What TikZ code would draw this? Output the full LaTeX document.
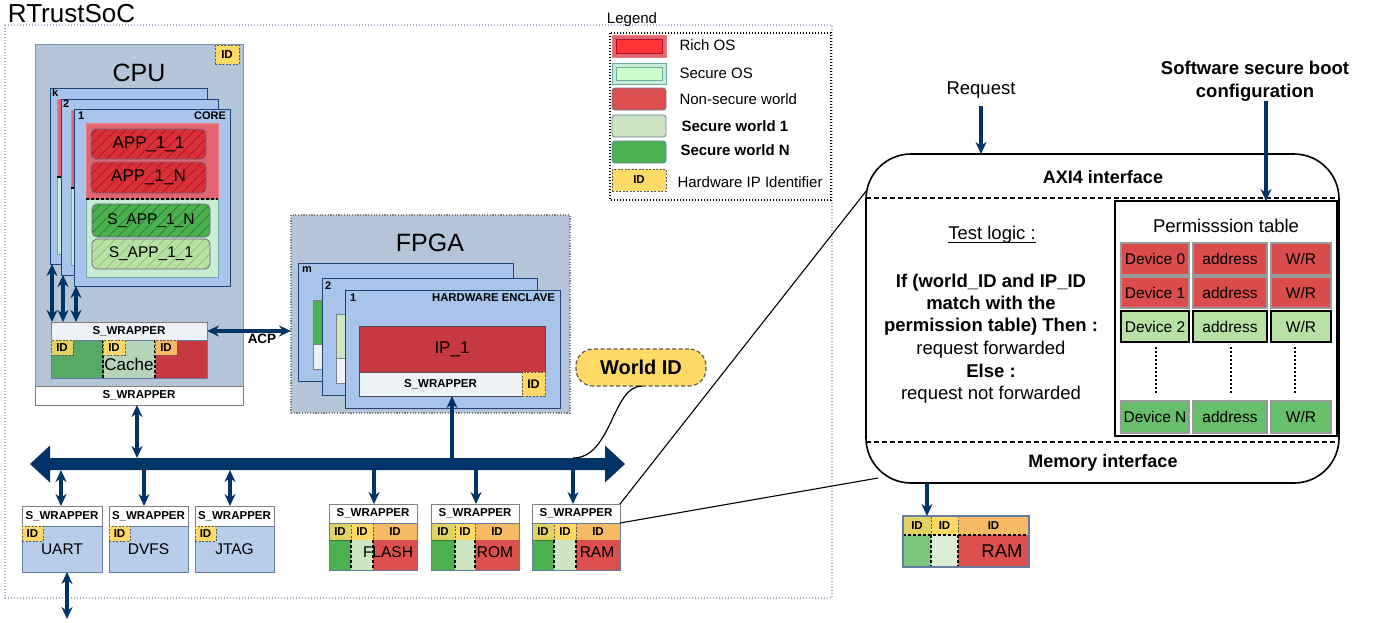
\documentclass[tikz,border=0pt]{standalone}
\usepackage{fontspec}
\setmainfont{Liberation Sans}
\usetikzlibrary{arrows.meta,patterns.meta,calc}
\newcommand\fsz[1]{\fontsize{#1}{#1}\selectfont}
\newcommand\bx[7]{\node[anchor=north west,inner sep=0pt,outer sep=0pt,minimum width={(#5-#3)*1pt},minimum height={(#6-#4)*1pt},#2] (#1) at (#3,#4) {#7};}
\definecolor{dblue}{RGB}{0,51,102}
\definecolor{cpufill}{RGB}{180,197,216}
\definecolor{cpudraw}{RGB}{120,150,185}
\definecolor{layerfill}{RGB}{169,196,235}
\definecolor{layerdraw}{RGB}{28,68,118}
\definecolor{richfill}{RGB}{226,102,114}
\definecolor{richdraw}{RGB}{240,125,125}
\definecolor{secfill}{RGB}{200,236,214}
\definecolor{secdraw}{RGB}{110,170,160}
\definecolor{appred}{RGB}{216,48,54}
\definecolor{apphatch}{RGB}{170,22,32}
\definecolor{appdraw}{RGB}{120,95,125}
\definecolor{sappn}{RGB}{76,175,80}
\definecolor{sappnh}{RGB}{35,125,45}
\definecolor{sapp1}{RGB}{185,224,165}
\definecolor{sapp1h}{RGB}{140,195,120}
\definecolor{idyel}{RGB}{255,217,102}
\definecolor{idolive}{RGB}{226,210,100}
\definecolor{idorange}{RGB}{246,185,100}
\definecolor{nsred}{RGB}{219,79,79}
\definecolor{ipred}{RGB}{200,56,64}
\definecolor{sw1}{RGB}{205,229,192}
\definecolor{swn}{RGB}{76,178,80}
\definecolor{perfill}{RGB}{184,205,234}
\definecolor{perdraw}{RGB}{100,125,160}
\definecolor{socdot}{RGB}{165,180,205}
\definecolor{wrapfill}{RGB}{238,242,247}
\definecolor{cachegreen}{RGB}{87,170,102}
\definecolor{cachemid}{RGB}{181,212,186}
\definecolor{tred}{RGB}{219,76,76}
\definecolor{tlgreen}{RGB}{185,224,165}
\definecolor{tgreen}{RGB}{103,190,107}
\definecolor{iddraw}{RGB}{90,90,90}
\definecolor{rgreen}{RGB}{125,198,127}
\definecolor{rlight}{RGB}{220,239,212}
\newcommand\memb[7]{%
 \bx{#1w}{wrap}{#2}{504}{#5}{523}{S\_WRAPPER}
 \bx{#1i1}{idc,fill=idolive}{#2}{523}{#3}{540}{ID}
 \bx{#1i2}{idc,fill=idyel}{#3}{523}{#4}{540}{ID}
 \bx{#1i3}{idc,fill=idorange}{#4}{523}{#5}{540}{ID}
 \bx{#1g}{fill=swn,draw=swn!70!black,line width=0.6pt}{#2}{540}{#3}{570}{}
 \bx{#1l}{fill=sw1}{#3}{540}{#4}{570}{}
 \bx{#1r}{fill=nsred}{#4}{540}{#5}{570}{}
 \node[font=\fsz{15.5}] at (#7,552) {#6};
 \draw[mdash] (#1l.north west) -- (#1l.south west);
 \draw[mdash] (#1l.north east) -- (#1l.south east);
 \draw[perdraw,line width=0.8pt] (#1i1.north west) rectangle (#1r.south east);
}
\newcommand\perb[5]{%
 \bx{#1w}{wrap}{#2}{506}{#3}{526}{S\_WRAPPER}
 \bx{#1b}{fill=perfill,draw=perdraw,line width=0.8pt,font=\fsz{15.5}}{#2}{526}{#3}{572}{#4}
 \bx{#1i}{idb}{#2}{526}{#5}{541}{ID}
}
\begin{document}
\begin{tikzpicture}[x=1pt,y=-1pt,
  lab/.style={inner sep=0pt,outer sep=0pt},
  idb/.style={fill=idyel,draw=iddraw,dash pattern=on 2pt off 1.5pt,line width=0.8pt,font=\fsz{11.5}\bfseries},
  idc/.style={draw=iddraw,dash pattern=on 2pt off 1.5pt,line width=0.7pt,font=\fsz{11.5}\bfseries},
  wrap/.style={fill=white,draw=gray,line width=0.9pt,font=\fsz{11.5}\bfseries},
  layer/.style={fill=layerfill,draw=layerdraw,line width=1pt},
  app/.style={rounded corners=5pt,draw=appdraw,line width=0.7pt,preaction={fill=#1},pattern={Lines[angle=45,distance=7pt,line width=0.7pt]}},
  arr/.style={draw=dblue,line width=3.2pt,-{Stealth[length=12pt,width=11pt]}},
  darr/.style={draw=dblue,line width=3.2pt,{Stealth[length=12pt,width=11pt]}-{Stealth[length=12pt,width=11pt]}},
  mdash/.style={black,line width=1.4pt,dash pattern=on 3pt off 2pt},
  cell/.style={draw=gray!80,line width=1.1pt,font=\fsz{15.5}},
  lgt/.style={anchor=west,font=\fsz{15}},
]
\useasboundingbox (0,0) rectangle (1383,622);
\fill[white] (0,0) rectangle (1383,622);

% SoC frame
\draw[socdot,line width=1.4pt,dash pattern=on 1.3pt off 1.7pt] (5,25) rectangle (832,598);
\node[lab,anchor=base west,font=\fsz{26}] (soc) at (8,22) {RTrustSoC};

% Legend
\node[lab,font=\fsz{15}] (legt) at (632,20) {Legend};
\draw[black,line width=1.4pt,dash pattern=on 1.3pt off 1.7pt] (610,33) rectangle (831,200);
\bx{lg1}{fill=richfill,draw=richdraw,line width=0.8pt}{612}{35}{666}{57}{}
\draw[fill=red!80!white,draw=apphatch,line width=0.8pt] ([shift={(4,4)}]lg1.north west) rectangle ([shift={(-4,-4)}]lg1.south east);
\bx{lg2}{fill=secfill,draw=secdraw,line width=0.8pt}{612}{63}{666}{84}{}
\draw[fill=green!20!white,draw=secdraw,line width=0.8pt] ([shift={(4,4)}]lg2.north west) rectangle ([shift={(-4,-4)}]lg2.south east);
\bx{lg3}{fill=nsred,draw=perdraw,rounded corners=3pt,line width=0.8pt}{612}{88}{666}{110}{}
\bx{lg4}{fill=sw1,draw=perdraw,rounded corners=3pt,line width=0.8pt}{612}{115}{666}{137}{}
\bx{lg5}{fill=swn,draw=perdraw,rounded corners=3pt,line width=0.8pt}{612}{141}{666}{163}{}
\bx{lg6}{idb}{612}{169}{666}{191}{ID}
\node[lgt] at (676,45) {Rich OS};
\node[lgt] at (676,73) {Secure OS};
\node[lgt] at (676,99) {Non-secure world};
\node[lgt,font=\fsz{15}\bfseries] at (678,126) {Secure world 1};
\node[lgt,font=\fsz{15}\bfseries] at (677,150) {Secure world N};
\node[lgt] at (674,182) {Hardware IP Identifier};

% CPU
\bx{cpu}{fill=cpufill,draw=cpudraw,line width=1pt}{35}{44}{243}{386}{}
\node[lab,font=\fsz{25}] at (139,73) {CPU};
\bx{cpuid}{idb}{215}{45}{239}{64}{ID}

\bx{corek}{layer}{50}{88}{207}{264}{}
\draw[fill=richfill,draw=richdraw] (57,99) rectangle (80,177);
\draw[fill=secfill,draw=secdraw] (57,177) rectangle (80,254);
\draw[black,line width=1.5pt] (57,177) -- (61,177);
\node[lab,anchor=north west,font=\fsz{11}\bfseries] at ([shift={(2,1)}]corek.north west) {k};
\bx{core2}{layer}{61}{99}{218}{275}{}
\draw[fill=richfill,draw=richdraw] (71,110) rectangle (95,188);
\draw[fill=secfill,draw=secdraw] (71,188) rectangle (95,265);
\draw[black,line width=1.5pt] (71,188) -- (74,188);
\node[lab,anchor=north west,font=\fsz{11}\bfseries] at ([shift={(2,1)}]core2.north west) {2};
\bx{core1}{layer}{74}{109}{230}{286}{}
\node[lab,anchor=north west,font=\fsz{11}\bfseries] at ([shift={(4,3)}]core1.north west) {1};
\node[lab,anchor=north east,font=\fsz{11}\bfseries] at ([shift={(-4,3)}]core1.north east) {CORE};
\bx{rich1}{fill=richfill,draw=richdraw,line width=0.8pt}{86}{123}{218}{199}{}
\bx{sec1}{fill=secfill,draw=secdraw,line width=0.8pt}{86}{199}{218}{277}{}
\draw[mdash,line width=1.8pt] (rich1.south west) -- (rich1.south east);
\bx{app11}{app=appred,pattern color=apphatch,font=\fsz{17}}{91}{129}{206}{159}{APP\_1\_1}
\bx{app1n}{app=appred,pattern color=apphatch,font=\fsz{17}}{91}{162}{206}{193}{APP\_1\_N}
\bx{sapp1n}{app=sappn,pattern color=sappnh,font=\fsz{15.5}}{92}{204}{210}{237}{S\_APP\_1\_N}
\bx{sapp11}{app=sapp1,pattern color=sapp1h,font=\fsz{15.5}}{92}{239}{210}{269}{S\_APP\_1\_1}

% cache
\bx{cachew}{wrap,fill=wrapfill}{51}{322}{207}{340}{S\_WRAPPER}
\bx{cg}{fill=cachegreen,draw=perdraw,line width=0.6pt}{51}{340}{103}{378}{}
\bx{cm}{fill=cachemid,draw=perdraw,line width=0.6pt}{103}{340}{155}{378}{}
\bx{cr}{fill=ipred,draw=perdraw,line width=0.6pt}{155}{340}{207}{378}{}
\draw[mdash] (cm.north west) -- (cm.south west);
\draw[mdash] (cm.north east) -- (cm.south east);
\bx{cid1}{idb,fill=idolive}{51}{340}{73}{355}{ID}
\bx{cid2}{idb}{103}{340}{125}{355}{ID}
\bx{cid3}{idb,fill=idorange}{155}{340}{177}{355}{ID}
\node[lab,font=\fsz{17}] (cachet) at (129,364) {Cache};

\draw[darr,line width=3.5pt] ([xshift=2pt]corek.south west) -- ([xshift=2pt]corek.south west |- cachew.north);
\draw[darr,line width=3.5pt] ([xshift=2pt]core2.south west) -- ([xshift=2pt]core2.south west |- cachew.north);
\draw[darr,line width=3.5pt] ([xshift=2pt]core1.south west) -- ([xshift=2pt]core1.south west |- cachew.north);

\bx{cpuw}{wrap}{35}{386}{243}{405}{S\_WRAPPER}

% FPGA
\bx{fpga}{fill=cpufill,draw=gray,line width=1.1pt,dash pattern=on 1.2pt off 1.5pt}{291}{215}{570}{413}{}
\node[lab,font=\fsz{25}] at (430,243) {FPGA};
\bx{encm}{layer}{298}{263}{513}{381}{}
\bx{encmg}{fill=swn,draw=gray}{313}{300}{360}{344}{}
\bx{encmw}{fill=wrapfill,draw=gray}{313}{344}{360}{369}{}
\node[lab,anchor=north west,font=\fsz{11}\bfseries] at ([shift={(4,4)}]encm.north west) {m};
\bx{enc2}{layer}{322}{278}{537}{395}{}
\bx{enc2g}{fill=sw1,draw=gray}{336}{314}{380}{358}{}
\bx{enc2w}{fill=wrapfill,draw=gray}{336}{358}{380}{383}{}
\node[lab,anchor=north west,font=\fsz{11}\bfseries] at ([shift={(3,4)}]enc2.north west) {2};
\bx{enc1}{layer}{345}{290}{560}{408}{}
\node[lab,anchor=north west,font=\fsz{11}\bfseries] at ([shift={(5,4)}]enc1.north west) {1};
\node[lab,anchor=north east,font=\fsz{11.3}\bfseries] at ([shift={(-5,4)}]enc1.north east) {HARDWARE ENCLAVE};
\bx{ip1}{fill=ipred,draw=gray!60!black,line width=0.8pt,font=\fsz{17}}{359}{326}{545}{372}{IP\_1}
\bx{fwrap}{wrap,fill=wrapfill,draw=gray!60!black,line width=0.8pt}{359}{372}{522}{396}{S\_WRAPPER}
\bx{fid}{idb,font=\fsz{12.5}\bfseries}{522}{372}{545}{396}{ID}

\draw[darr] (cachew.east) -- (cachew.east -| fpga.west);
\node[lab,font=\fsz{13.5}\bfseries] at (262,339) {ACP};

% bus
\fill[dblue] (30,464) -- (50,445.5) -- (50,458) -- (605,458) -- (605,445.5) -- (625,464) -- (605,482.5) -- (605,470) -- (50,470) -- (50,482.5) -- cycle;
\coordinate (busmid) at (300,464);
\coordinate (bustop) at (300,458);
\coordinate (busbot) at (300,470);

\draw[darr] ([xshift=-2pt]cpuw.south) -- ([xshift=-2pt]cpuw.south |- bustop);
\draw[arr] ([xshift=11.5pt]fwrap.south |- busmid) -- ([xshift=11.5pt]fwrap.south);

% peripherals
\perb{uart}{22}{102}{UART}{43}
\perb{dvfs}{109}{188}{DVFS}{130}
\perb{jtag}{195}{274}{JTAG}{216}
\draw[darr] ([xshift=-1pt]uartw.north |- busbot) -- ([xshift=-1pt]uartw.north);
\draw[arr] ([xshift=-4.5pt]dvfsw.north |- busmid) -- ([xshift=-4.5pt]dvfsw.north);
\draw[darr] ([xshift=-4.5pt]jtagw.north |- busbot) -- ([xshift=-4.5pt]jtagw.north);
\coordinate (uartout) at (67,619);
\draw[darr] ([xshift=5pt]uartb.south) -- (uartout);

% memories
\memb{flash}{329}{351}{373}{417}{FLASH}{388}
\memb{rom}{431}{455}{475}{519}{ROM}{495}
\memb{ram}{532}{554}{576}{620}{RAM}{597}
\draw[arr] ([xshift=1pt]flashw.north |- busmid) -- ([xshift=1pt]flashw.north);
\draw[arr] ([xshift=1pt]romw.north |- busmid) -- ([xshift=1pt]romw.north);
\draw[arr] ([xshift=-3pt]ramw.north |- busmid) -- ([xshift=-3pt]ramw.north);

% World ID
\bx{wid}{fill=idyel,draw=iddraw,dash pattern=on 4pt off 2.5pt,line width=1.2pt,rounded corners=17pt,font=\fsz{20}\bfseries}{576}{349}{706}{386}{World ID}
\coordinate (widbus) at (573,458);
\draw[black,line width=1.2pt] ([xshift=1pt]wid.south) .. controls (612,386) and (612,458) .. (widbus);

% right panel
\bx{panel}{fill=white,draw=black,line width=1.6pt,rounded corners=45pt}{866}{154}{1339}{483}{}
\coordinate (pTL) at (867,190);
\coordinate (pBL) at (878,478);
\draw[black,line width=1.1pt] (ramw.north east) -- (pTL);
\draw[black,line width=1.1pt] (rami3.north east) -- (pBL);
\draw[black,line width=1.1pt,dash pattern=on 5pt off 3pt] (866,198) -- (1339,198);
\draw[black,line width=1.1pt,dash pattern=on 5pt off 3pt] (866,442) -- (1339,442);
\node[lab,font=\fsz{18}\bfseries] at (1103,177) {AXI4 interface};
\node[lab,font=\fsz{18}\bfseries] at (1103,463) {Memory interface};

\node[lab,anchor=base,font=\fsz{18.5}] (tl) at (992,239) {Test logic :};
\draw[black,line width=1pt] ([yshift=-3pt]tl.base west) -- ([yshift=-3pt]tl.base east);
\node[lab,anchor=base,font=\fsz{18.5}\bfseries] at (991,287) {If (world\_ID and IP\_ID};
\node[lab,anchor=base,font=\fsz{18.5}\bfseries] at (991,309) {match with the};
\node[lab,anchor=base,font=\fsz{18.5}\bfseries] at (991,331) {permission table) Then :};
\node[lab,anchor=base,font=\fsz{18.5}] at (991,354) {request forwarded};
\node[lab,anchor=base,font=\fsz{18.5}\bfseries] at (991,377) {Else :};
\node[lab,anchor=base,font=\fsz{18.5}] at (991,399) {request not forwarded};

\bx{ptab}{fill=white,draw=black,line width=1.6pt}{1115}{201}{1337}{436}{}
\node[lab,font=\fsz{18.5}] at (1226,226) {Permisssion table};
\bx{d0}{cell,fill=tred}{1121}{243}{1189}{275}{Device 0}
\bx{a0}{cell,fill=tred}{1193}{243}{1267}{275}{address}
\bx{w0}{cell,fill=tred}{1271}{243}{1331}{275}{W/R}
\bx{d1}{cell,fill=tred}{1121}{277}{1189}{308}{Device 1}
\bx{a1}{cell,fill=tred}{1193}{277}{1267}{308}{address}
\bx{w1}{cell,fill=tred}{1271}{277}{1331}{308}{W/R}
\bx{d2}{cell,fill=tlgreen,draw=black,line width=1.5pt}{1121}{311}{1189}{342}{Device 2}
\bx{a2}{cell,fill=tlgreen,draw=black,line width=1.5pt}{1193}{311}{1267}{342}{address}
\bx{w2}{cell,fill=tlgreen,draw=black,line width=1.5pt}{1271}{311}{1331}{342}{W/R}
\bx{dn}{cell,fill=tgreen}{1121}{401}{1189}{433}{Device N}
\bx{an}{cell,fill=tgreen}{1193}{401}{1267}{433}{address}
\bx{wn}{cell,fill=tgreen}{1271}{401}{1331}{433}{W/R}
\draw[black,line width=1.8pt,dash pattern=on 1.5pt off 2.5pt] (1156,347) -- (1156,394);
\draw[black,line width=1.8pt,dash pattern=on 1.5pt off 2.5pt] (1231,347) -- (1231,394);
\draw[black,line width=1.8pt,dash pattern=on 1.5pt off 2.5pt] (1295,347) -- (1295,394);

\node[lab,font=\fsz{18.5}] (req) at (981,90) {Request};
\draw[draw=dblue,line width=3.2pt,-{Stealth[length=12pt,width=11pt]}] ([yshift=-16pt]req.center) -- (req.center |- panel.north);
\node[lab,align=center,font=\fontsize{18.5}{23}\selectfont\bfseries] (sboot) at (1255,81) {Software secure boot\\configuration};
\draw[draw=dblue,line width=3.2pt,-{Stealth[length=12pt,width=11pt]}] ([xshift=11pt]sboot.south) -- ([xshift=11pt]sboot.south |- ptab.north);

% right RAM
\bx{rid1}{idc,fill=idolive}{903}{516}{931}{535}{ID}
\bx{rid2}{idc,fill=idyel}{931}{516}{958}{535}{ID}
\bx{rid3}{idc,fill=idorange}{958}{516}{1029}{535}{ID}
\bx{rg}{fill=rgreen}{903}{535}{931}{567}{}
\bx{rl}{fill=rlight}{931}{535}{958}{567}{}
\bx{rr}{fill=nsred}{958}{535}{1029}{567}{}
\node[lab,font=\fsz{18.5}] at (1002,551) {RAM};
\draw[mdash] (rl.north west) -- (rl.south west);
\draw[mdash] (rl.north east) -- (rl.south east);
\draw[mdash] (rid1.south west) -- (rid3.south east);
\draw[perdraw,line width=1.1pt] (rid1.north west) rectangle (rr.south east);
\draw[draw=dblue,line width=3.2pt,-{Stealth[length=12pt,width=11pt]}] ([xshift=10pt]rid1.north |- panel.south) -- ([xshift=10pt]rid1.north);
\end{tikzpicture}
\end{document}
